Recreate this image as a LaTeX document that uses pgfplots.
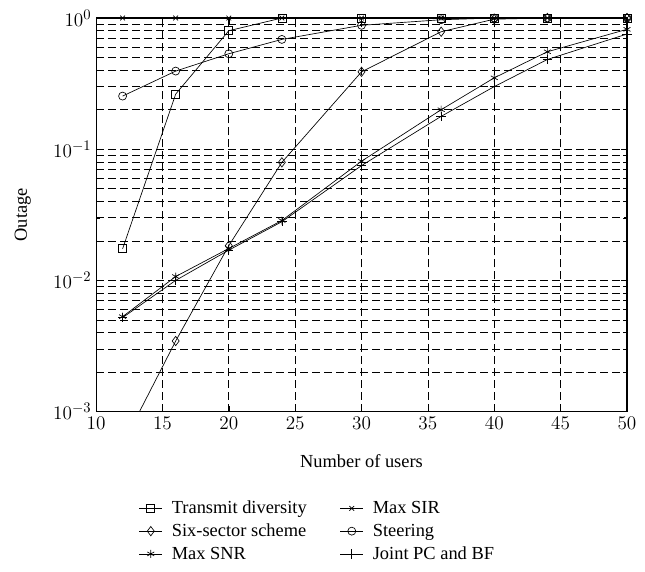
\documentclass[border=0pt]{standalone}
\usepackage{pgfplots}
\pgfplotsset{compat=1.18}
\usepackage{fontspec}
\setmainfont{Liberation Serif}
\begin{document}
\begin{tikzpicture}
\begin{axis}[
  width=398pt, height=295pt, scale only axis,
  xmin=10, xmax=50, ymin=1e-3, ymax=1,
  ymode=log,
  xtick={10,15,...,50},
  ytick={1e-3,1e-2,1e-1,1},
  minor ytick={2e-3,3e-3,4e-3,5e-3,6e-3,7e-3,8e-3,9e-3,2e-2,3e-2,4e-2,5e-2,6e-2,7e-2,8e-2,9e-2,2e-1,3e-1,4e-1,5e-1,6e-1,7e-1,8e-1,9e-1},
  xlabel={Number of users},
  ylabel={Outage},
  grid=both,
  major grid style={black, dash pattern=on 6pt off 3pt, line width=0.45pt},
  minor grid style={black, dash pattern=on 6pt off 3pt, line width=0.45pt},
  tick style={black, line width=0.4pt},
  tick align=inside,
  axis line style={black, line width=0.8pt},
  tick label style={font=\fontsize{15}{17}\selectfont},
  xticklabel style={yshift=-1pt},
  label style={font=\fontsize{13.8}{16}\selectfont},
  xlabel style={at={(axis description cs:0.5,-0.125)}, anchor=center},
  ylabel style={at={(axis description cs:-0.138,0.5)}, anchor=center},
  clip mode=individual,
  legend columns=2,
  legend style={draw=none, at={(rel axis cs:0.073,-0.213)}, anchor=north west, font=\fontsize{13.8}{16}\selectfont,
    /tikz/every even column/.append style={column sep=23pt},
    /tikz/every odd column/.append style={column sep=5pt}, row sep=2pt},
  legend cell align=left,
]
\addplot[black, line width=0.5pt, mark=square, mark size=3pt, mark options={solid}] coordinates {(12,0.0174) (16,0.263) (20,0.80) (24,1.0) (30,1.0) (36,1.0) (40,1.0) (44,1.0) (50,1.0)};
\addlegendentry{Transmit diversity}
\addplot[black, line width=0.5pt, mark=x, mark size=2.5pt, mark options={solid}] coordinates {(12,1.0) (16,1.0) (20,1.0) (24,1.0) (30,1.0) (36,1.0) (40,1.0) (44,1.0) (50,1.0)};
\addlegendentry{Max SIR}
\addplot[black, line width=0.5pt, mark=diamond, mark size=3.5pt, mark options={solid}] coordinates {(12,0.00056) (16,0.00345) (20,0.0184) (24,0.0794) (30,0.389) (36,0.786) (40,0.98) (44,1.0) (50,1.0)};
\addlegendentry{Six-sector scheme}
\addplot[black, line width=0.5pt, mark=o, mark size=3pt, mark options={solid}] coordinates {(12,0.254) (16,0.394) (20,0.534) (24,0.687) (30,0.88) (36,0.97) (40,1.0) (44,1.0) (50,1.0)};
\addlegendentry{Steering}
\addplot[black, line width=0.5pt, mark=asterisk, mark size=3pt, mark options={solid}] coordinates {(12,0.00529) (16,0.0107) (20,0.0175) (24,0.0286) (30,0.081) (36,0.20) (40,0.35) (44,0.553) (50,0.82)};
\addlegendentry{Max SNR}
\addplot[black, line width=0.5pt, mark=+, mark size=3.5pt, mark options={solid}] coordinates {(12,0.0052) (16,0.0100) (20,0.017) (24,0.028) (30,0.075) (36,0.178) (40,0.30) (44,0.483) (50,0.755)};
\addlegendentry{Joint PC and BF}
\end{axis}
\pgfresetboundingbox
\path[use as bounding box] ([shift={(-72pt,-120pt)}]current axis.south west) rectangle ([shift={(13.5pt,13.5pt)}]current axis.north east);
\end{tikzpicture}
\end{document}
